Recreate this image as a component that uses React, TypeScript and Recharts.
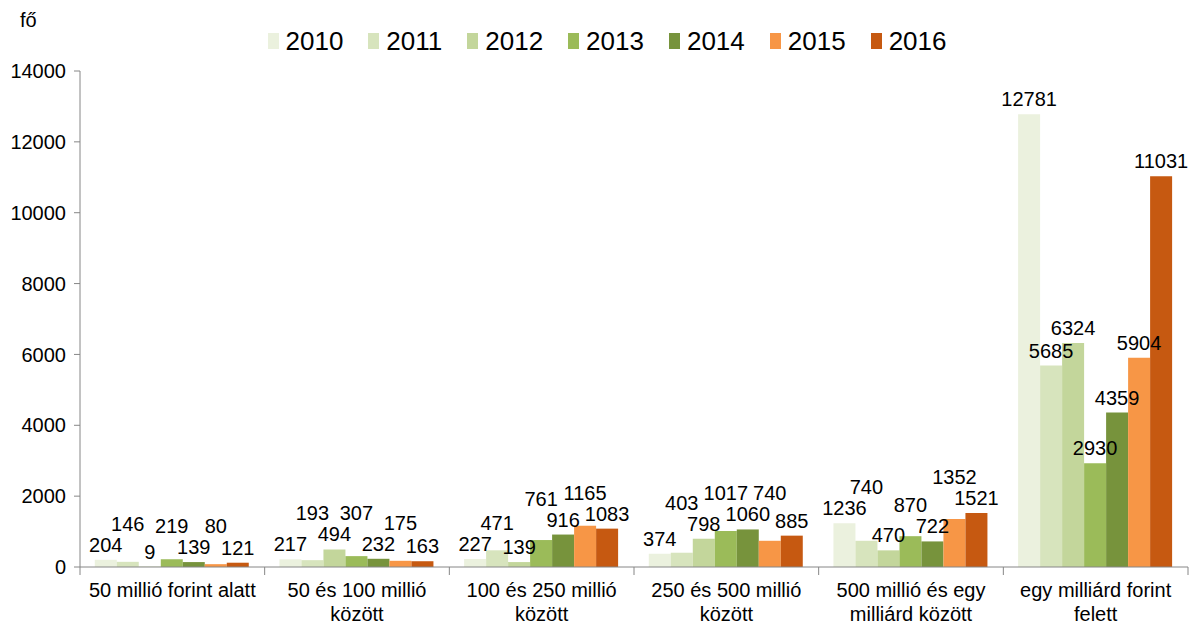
import { Bar, BarChart, LabelList, XAxis, YAxis } from 'recharts';

const categories = [
  '50 millió forint alatt',
  '50 és 100 millió\nközött',
  '100 és 250 millió\nközött',
  '250 és 500 millió\nközött',
  '500 millió és egy\nmilliárd között',
  'egy milliárd forint\nfelett',
];

const years = ['2010', '2011', '2012', '2013', '2014', '2015', '2016'];
const colors = ['#EBF1DE', '#D7E4BD', '#C3D69B', '#9BBB59', '#77933C', '#F79646', '#C65911'];

const v2010 = [204, 217, 227, 374, 1236, 12781];
const v2011 = [146, 193, 471, 403, 740, 5685];
const v2012 = [9, 494, 139, 798, 470, 6324];
const v2013 = [219, 307, 761, 1017, 870, 2930];
const v2014 = [139, 232, 916, 1060, 722, 4359];
const v2015 = [80, 175, 1165, 740, 1352, 5904];
const v2016 = [121, 163, 1083, 885, 1521, 11031];

const yTicks = [0, 2000, 4000, 6000, 8000, 10000, 12000, 14000];

const series = [v2010, v2011, v2012, v2013, v2014, v2015, v2016];
const data = categories.map((name, i) => {
  const row: Record<string, string | number> = { name };
  years.forEach((y, j) => {
    row[y] = series[j][i];
  });
  return row;
});

const W = 1190;
const H = 626;
const LEFT = 80;
const RIGHT = 2;
const band = (W - LEFT - RIGHT) / categories.length;
const font = '"Liberation Sans", Arial, sans-serif';

function CatTick(props: any) {
  const { x, y, payload, index } = props;
  const lines = String(payload.value).split('\n');
  const axisY = y - 8;
  return (
    <g>
      <line x1={x - band / 2} x2={x - band / 2} y1={axisY} y2={axisY + 8} stroke="#868686" />
      {index === categories.length - 1 && (
        <line x1={x + band / 2} x2={x + band / 2} y1={axisY} y2={axisY + 8} stroke="#868686" />
      )}
      <text x={x} y={y + 22} textAnchor="middle" fontSize={20} fill="#000" fontFamily={font}>
        {lines.map((l, i) => (
          <tspan key={i} x={x} dy={i === 0 ? 0 : 24}>
            {l}
          </tspan>
        ))}
      </text>
    </g>
  );
}

// odd series labels get lifted only when they would collide with a neighbour's label
function makeLabel(s: number) {
  return (props: any) => {
    const { x, y, width, height, value, index } = props;
    const base = y + height;
    const topOf = (v: number) => base - (height * v) / value;
    let baseline = y - 8;
    if (s % 2 === 1) {
      [s - 1, s + 1].forEach((n) => {
        if (n >= 0 && n < series.length) {
          const nb = topOf(series[n][index]) - 8;
          if (Math.abs(baseline - nb) < 21) baseline = Math.min(baseline, nb - 21);
        }
      });
    }
    return (
      <text x={x + width / 2} y={baseline} textAnchor="middle" fontSize={20} fill="#000" fontFamily={font}>
        {value}
      </text>
    );
  };
}

export default function App() {
  return (
    <div style={{ position: 'absolute', left: 0, top: 0, width: W, height: H, background: '#fff', fontFamily: font }}>
      <div style={{ position: 'absolute', left: 20, top: 9, fontSize: 20 }}>fő</div>
      <div
        style={{
          position: 'absolute',
          left: 0,
          top: 26,
          width: W,
          display: 'flex',
          justifyContent: 'center',
          paddingLeft: 24,
          boxSizing: 'border-box',
        }}
      >
        {years.map((y, i) => (
          <div key={y} style={{ display: 'flex', alignItems: 'center', marginLeft: i === 0 ? 0 : 25 }}>
            <div style={{ width: 11, height: 16, background: colors[i], marginRight: 7 }} />
            <span style={{ fontSize: 26, lineHeight: '30px' }}>{y}</span>
          </div>
        ))}
      </div>
      <BarChart
        width={W}
        height={H}
        data={data}
        margin={{ top: 71, right: RIGHT, bottom: 0, left: 0 }}
        barCategoryGap="8%"
        barGap={0}
      >
        <XAxis
          dataKey="name"
          stroke="#868686"
          tickLine={false}
          interval={0}
          tick={<CatTick />}
          height={59}
        />
        <YAxis
          width={LEFT}
          domain={[0, 14000]}
          ticks={yTicks}
          stroke="#868686"
          tickSize={6}
          tickMargin={8}
          tick={{ fill: '#000', fontSize: 20, fontFamily: font }}
        />
        {years.map((y, i) => (
          <Bar key={y} dataKey={y} fill={colors[i]} isAnimationActive={false}>
            <LabelList dataKey={y} content={makeLabel(i)} />
          </Bar>
        ))}
      </BarChart>
    </div>
  );
}
